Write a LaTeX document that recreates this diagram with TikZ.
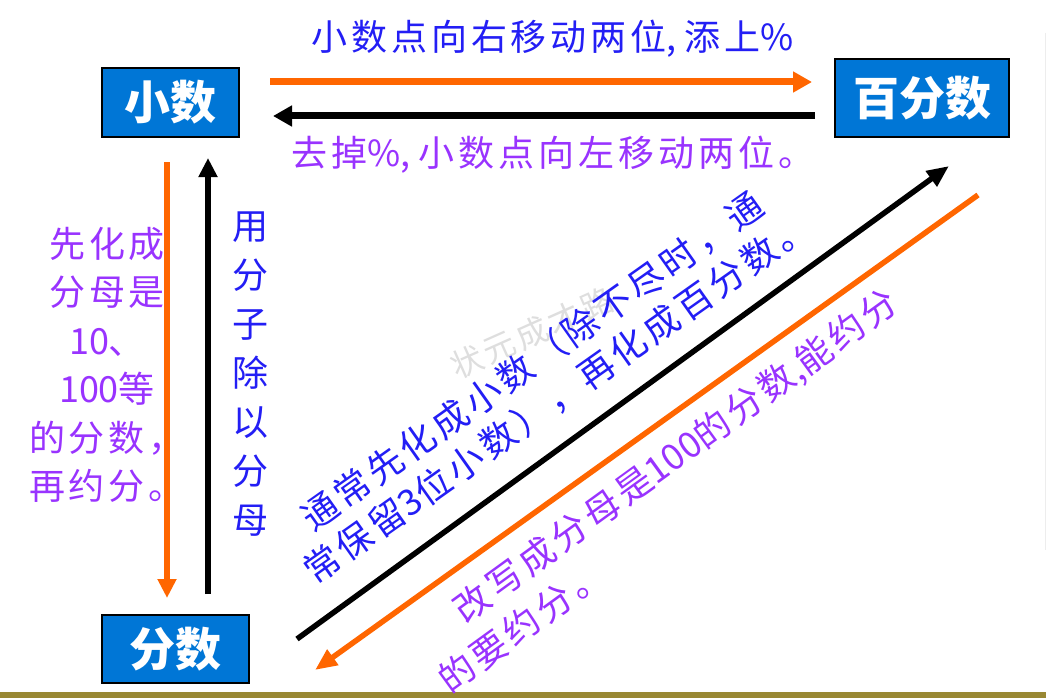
\documentclass[tikz,border=0pt]{standalone}
\usepackage{fontspec}
\usetikzlibrary{arrows.meta}
\newfontfamily\cjk[LetterSpace=11]{Noto Sans CJK SC}
\newfontfamily\cjkd[LetterSpace=11]{Noto Sans CJK SC}
\newfontfamily\cjkbox{Noto Sans CJK SC}
\newcommand{\tight}[1]{{\cjkbox #1}}
\definecolor{boxblue}{RGB}{0,118,214}
\definecolor{txtblue}{RGB}{35,30,245}
\definecolor{txtpurple}{RGB}{153,51,255}
\definecolor{arrorange}{RGB}{255,102,0}
\definecolor{oliveband}{RGB}{153,136,51}
\definecolor{wmgray}{RGB}{222,222,222}
\begin{document}
\begin{tikzpicture}[x=1pt,y=-1pt,
  numbox/.style={draw=black, line width=1.2pt, fill=boxblue, text=white, inner sep=0pt,
    font=\cjkbox\bfseries\fontsize{46}{46}\selectfont},
  lbl/.style={inner sep=0pt, font=\cjk\fontsize{36}{40}\selectfont},
  dlbl/.style={inner sep=0pt, font=\cjkd\fontsize{36}{40}\selectfont},
  fatarrow/.style={line width=7pt, -{Triangle[length=19pt,width=20pt]}},
  midarrow/.style={line width=6pt, -{Triangle[length=19pt,width=18pt]}},
  diagarrow/.style={line width=5.5pt, -{Triangle[length=22pt,width=18pt]}}
]
\useasboundingbox (0,0) rectangle (1046,698);
\fill[white] (0,0) rectangle (1046,698);
\fill[oliveband] (0,692) rectangle (1046,698);
\draw[line width=1pt, black!7] (1045,33) -- (1045,550);

% boxes
\node[numbox, minimum width=137pt, minimum height=69pt] (xs) at (170.5,102.5) {小数};
\node[numbox, minimum width=174pt, minimum height=78pt] (bfs) at (922,98) {百分数};
\node[numbox, minimum width=147pt, minimum height=68pt] (fs) at (175.5,649) {分数};

% arrow end points
\coordinate (a1s) at (270,82);   \coordinate (a1e) at (812,82);
\coordinate (a2s) at (815,116);  \coordinate (a2e) at (273,116);
\coordinate (a3s) at (167,162);  \coordinate (a3e) at (167,598);
\coordinate (a4s) at (208,594);  \coordinate (a4e) at (208,158);
\coordinate (a5s) at (297,639);  \coordinate (a5e) at (949,166);
\coordinate (a6s) at (978,195);  \coordinate (a6e) at (315,670);

\draw[fatarrow, arrorange] (a1s) -- (a1e);
\draw[fatarrow, black] (a2s) -- (a2e);
\draw[midarrow, arrorange] (a3s) -- (a3e);
\draw[midarrow, black] (a4s) -- (a4e);
\draw[diagarrow, black] (a5s) -- (a5e);
\draw[diagarrow, arrorange] (a6s) -- (a6e);

% watermark
\node[inner sep=0pt, text=wmgray, font=\cjkd\fontsize{32}{32}\selectfont, rotate=24] (wm) at (532,333) {状元成才路};

% texts
\node[lbl, text=txtblue, anchor=west] (t1) at (311,39) {小数点向右移动两位\tight{, }添上\tight{\%}};
\node[lbl, text=txtpurple, anchor=west] (t2) at (291,155) {去掉\tight{\%, }小数点向左移动两位。};

\node[lbl, text=txtpurple, align=center, font=\cjk\fontsize{36}{48.5}\selectfont] (left)
  at (107,365) {先化成\\分母是\\\tight{10}、\\\tight{100}等\\的分数，\\再约分。};

\node[lbl, text=txtblue, align=center, font=\cjk\fontsize{36}{49}\selectfont] (vert)
  at (250,374) {用\\分\\子\\除\\以\\分\\母};

\node[dlbl, text=txtblue, rotate=35.3] (d1) at (532,361.5) {通常先化成小数（除不尽时，通};
\node[dlbl, text=txtblue, rotate=35.3] (d2) at (557,398) {常保留\tight{3}位小数），再化成百分数。};

\node[dlbl, text=txtpurple, rotate=36] (p1) at (676.5,456.5) {改写成分母是\tight{100}的分数\tight{,}能约分};
\node[dlbl, text=txtpurple, rotate=36] (p2) at (521.5,626) {的要约分。};
\end{tikzpicture}
\end{document}
